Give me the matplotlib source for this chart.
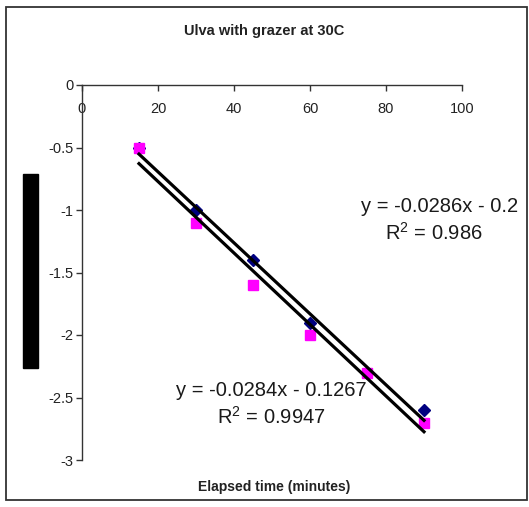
import numpy as np
import matplotlib.pyplot as plt
from matplotlib.patches import Rectangle

plt.rcParams['font.family'] = ['Liberation Sans', 'DejaVu Sans']

# elapsed time in minutes and the two measured series
minutes = [15, 30, 45, 60, 75, 90]
series_a = [-0.5, -1.0, -1.4, -1.9, -2.3, -2.6]   # navy diamonds
series_b = [-0.5, -1.1, -1.6, -2.0, -2.3, -2.7]   # magenta squares

# linear trendlines (slope, intercept, r squared)
fit_a = (-0.0284, -0.1267, 0.9947)
fit_b = (-0.0286, -0.2, 0.986)

xticks = [0, 20, 40, 60, 80, 100]
yticks = [0, -0.5, -1, -1.5, -2, -2.5, -3]

fig = plt.figure(figsize=(5.29, 5.07), dpi=100)
ax = fig.add_axes([82/529, 1 - 460/507, 380/529, 375/507])

ax.plot(minutes, series_a, 'D', color='#000080', ms=6.5, zorder=2)
ax.plot(minutes, series_b, 's', color='#FF00FF', ms=7.5, zorder=3)

xx = np.array([minutes[0], minutes[-1]])
for slope, icept, r2 in (fit_a, fit_b):
    ax.plot(xx, slope*xx + icept, '-', color='black', lw=2.3, zorder=4)

ax.set_xlim(0, 100)
ax.set_ylim(-3, 0)
ax.set_xticks(xticks)
ax.set_yticks(yticks)
ax.set_yticklabels(['0', '-0.5', '-1', '-1.5', '-2', '-2.5', '-3'])

# x axis crosses at y = 0, which sits at the top of the plot
ax.spines['bottom'].set_position(('data', 0))
ax.spines['top'].set_visible(False)
ax.spines['right'].set_visible(False)
for s in ('bottom', 'left'):
    ax.spines[s].set_color('#333333')
    ax.spines[s].set_linewidth(1.0)
ax.tick_params(axis='both', direction='out', length=4, width=1,
               color='#333333', labelsize=10.5, labelcolor='#222222')
ax.tick_params(axis='x', pad=8)
ax.tick_params(axis='y', pad=2)

eq_style = dict(transform=fig.transFigure, ha='center', va='center',
                fontsize=14.5, color='#1a1a1a')
ax.text(440/529, 1 - 207/507, 'y = -0.0286x - 0.2', **eq_style)
ax.text(434/529, 1 - 233/507, 'R$^{\\mathregular{2}}$ = 0.986', **eq_style)
ax.text(271/529, 1 - 390/507, 'y = -0.0284x - 0.1267', **eq_style)
ax.text(271/529, 1 - 417/507, 'R$^{\\mathregular{2}}$ = 0.9947', **eq_style)

fig.text(264/529, 1 - 31/507, 'Ulva with grazer at 30C', ha='center',
         va='center', fontsize=10.5, fontweight='bold', color='#222222')
fig.text(274/529, 1 - 487/507, 'Elapsed time (minutes)', ha='center',
         va='center', fontsize=10, fontweight='bold', color='#222222')

# blacked-out y axis label block
fig.patches.append(Rectangle((23/529, 1 - 368/507), 15/529, 194/507,
                             transform=fig.transFigure, color='black'))
# chart area border
fig.patches.append(Rectangle((6/529, 1 - 500/507), 521/529, 493/507,
                             transform=fig.transFigure, fill=False,
                             edgecolor='#333333', lw=1.3))

fig.savefig('out.png', dpi=100)
